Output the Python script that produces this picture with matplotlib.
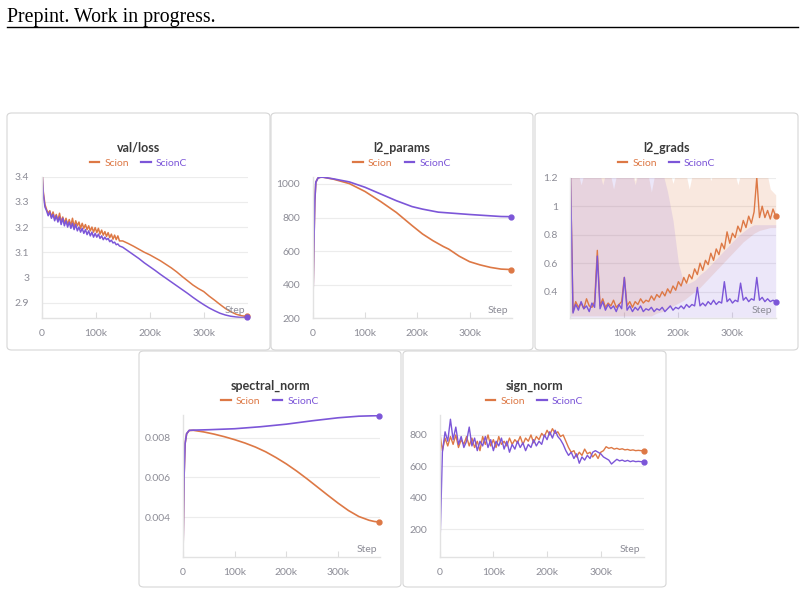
import numpy as np
import matplotlib
matplotlib.use("Agg")
import matplotlib.pyplot as plt
from matplotlib.lines import Line2D
from matplotlib.patches import FancyBboxPatch

plt.rcParams['font.family'] = ['Lato', 'DejaVu Sans']

W, H = 805, 595
ORANGE = '#DD7845'
PURPLE = '#7C56D8'
GRID = '#ececec'
TICK = '#8c8c96'

series_names = ['Scion', 'ScionC']

# ---- val/loss ----
loss_steps = [0, 3, 6, 9, 12, 15, 18, 21, 24, 27, 30, 33, 36, 39, 42, 45, 48, 51, 54, 57,
              60, 63, 66, 69, 72, 75, 78, 81, 84, 87, 90, 93, 96, 99, 102, 105, 108, 111, 114,
              117, 120, 123, 126, 129, 132, 135, 138, 141, 144,
              150, 160, 170, 180, 190, 200, 210, 220, 230, 240, 250, 260, 270, 280, 290, 300,
              310, 320, 330, 340, 350, 360, 370, 380]
loss_scion = [3.45, 3.34, 3.29, 3.27, 3.255, 3.265, 3.24, 3.26, 3.235, 3.25, 3.225, 3.255, 3.22,
              3.24, 3.215, 3.235, 3.21, 3.23, 3.205, 3.235, 3.2, 3.225, 3.205, 3.22, 3.195, 3.215,
              3.195, 3.21, 3.19, 3.205, 3.185, 3.2, 3.18, 3.198, 3.178, 3.195, 3.172, 3.188, 3.168,
              3.182, 3.163, 3.178, 3.158, 3.172, 3.152, 3.168, 3.15, 3.165, 3.145,
              3.145, 3.135, 3.124, 3.112, 3.1, 3.09, 3.078, 3.066, 3.052, 3.038, 3.022, 3.004,
              2.987, 2.97, 2.956, 2.944, 2.926, 2.91, 2.893, 2.877, 2.864, 2.854, 2.848, 2.845]
loss_scionc = [3.45, 3.33, 3.28, 3.265, 3.245, 3.26, 3.235, 3.25, 3.225, 3.245, 3.22, 3.24, 3.21,
               3.235, 3.205, 3.225, 3.2, 3.22, 3.195, 3.215, 3.19, 3.21, 3.185, 3.2, 3.18, 3.195,
               3.175, 3.19, 3.17, 3.185, 3.165, 3.18, 3.16, 3.175, 3.16, 3.172, 3.155, 3.165, 3.15,
               3.16, 3.15, 3.155, 3.142, 3.148, 3.137, 3.14, 3.13, 3.133, 3.125,
               3.12, 3.105, 3.09, 3.075, 3.058, 3.043, 3.028, 3.012, 2.997, 2.982, 2.967, 2.952,
               2.937, 2.921, 2.906, 2.892, 2.879, 2.868, 2.858, 2.851, 2.846, 2.843, 2.841, 2.841]
loss_yticks = [2.9, 3.0, 3.1, 3.2, 3.3, 3.4]
loss_ylabels = ['2.9', '3', '3.1', '3.2', '3.3', '3.4']

# ---- l2_params ----
params_steps = [0, 2, 4, 6, 10, 15, 20, 40, 70, 100, 130, 160, 190, 210, 230, 250, 260, 280,
                300, 320, 340, 360, 380]
params_scion = [200, 600, 900, 1010, 1035, 1040, 1040, 1028, 1002, 955, 895, 830, 752, 702, 662,
                627, 612, 570, 537, 518, 503, 493, 490]
params_scionc_steps = [0, 2, 4, 6, 10, 15, 20, 40, 70, 100, 130, 160, 190, 210, 240, 270, 300,
                       330, 360, 380]
params_scionc = [200, 600, 900, 1010, 1035, 1040, 1040, 1030, 1012, 980, 940, 900, 865, 850,
                 832, 825, 818, 812, 806, 805]
params_yticks = [200, 400, 600, 800, 1000]

# ---- l2_grads ----
grads_steps = list(range(0, 381, 5))
grads_scion = [1.30, 0.26, 0.33, 0.29, 0.32, 0.28, 0.35, 0.30, 0.29, 0.33, 0.69, 0.30, 0.35, 0.29,
               0.32, 0.30, 0.34, 0.29, 0.31, 0.33, 0.50, 0.30, 0.33, 0.29, 0.33, 0.31, 0.35, 0.32,
               0.34, 0.33, 0.37, 0.34, 0.38, 0.36, 0.40, 0.37, 0.42, 0.39, 0.44, 0.41, 0.47, 0.44,
               0.50, 0.46, 0.52, 0.49, 0.56, 0.52, 0.60, 0.55, 0.62, 0.59, 0.67, 0.62, 0.70, 0.66,
               0.74, 0.70, 0.82, 0.74, 0.81, 0.78, 0.86, 0.82, 0.90, 0.85, 0.93, 0.88, 0.96, 1.20,
               0.92, 1.00, 0.92, 0.97, 0.91, 0.98, 0.93]
grads_scionc = [1.30, 0.25, 0.31, 0.27, 0.33, 0.28, 0.30, 0.26, 0.32, 0.29, 0.65, 0.28, 0.33, 0.27,
                0.31, 0.28, 0.30, 0.26, 0.31, 0.28, 0.50, 0.27, 0.30, 0.26, 0.29, 0.27, 0.30, 0.26,
                0.28, 0.27, 0.29, 0.26, 0.28, 0.27, 0.29, 0.26, 0.28, 0.30, 0.27, 0.29, 0.28, 0.30,
                0.28, 0.31, 0.29, 0.31, 0.30, 0.43, 0.30, 0.32, 0.30, 0.33, 0.31, 0.34, 0.31, 0.33,
                0.32, 0.47, 0.33, 0.35, 0.32, 0.34, 0.33, 0.46, 0.34, 0.36, 0.33, 0.35, 0.34, 0.50,
                0.34, 0.36, 0.33, 0.35, 0.33, 0.34, 0.33]
band_steps = list(range(0, 381, 10))
band_scion_hi = [1.3, 1.3, 1.15, 1.3, 1.3, 1.2, 1.3, 1.3, 1.12, 1.3, 1.3, 1.3, 1.18, 1.3, 1.3, 1.1,
                 1.3, 1.3, 1.3, 1.16, 1.3, 1.3, 1.12, 1.3, 1.3, 1.3, 1.18, 1.3, 1.3, 1.3, 1.3, 1.15,
                 1.3, 1.3, 1.3, 1.3, 1.3, 1.12, 1.08]
band_scion_lo = [0.23, 0.23, 0.23, 0.23, 0.23, 0.23, 0.23, 0.23, 0.23, 0.23, 0.23, 0.23, 0.23,
                 0.23, 0.23, 0.23, 0.25, 0.26, 0.28, 0.30, 0.32, 0.34, 0.37, 0.40, 0.43, 0.47,
                 0.51, 0.55, 0.59, 0.63, 0.67, 0.71, 0.75, 0.78, 0.81, 0.83, 0.84, 0.85, 0.85]
band_scionc_hi = [1.3, 1.3, 1.2, 1.3, 1.25, 1.3, 1.15, 1.3, 1.3, 1.2, 1.3, 1.3, 1.15, 1.3, 1.25,
                  1.3, 1.2, 1.25, 1.1, 0.9, 0.6, 0.46, 0.46, 0.48, 0.52, 0.55, 0.59, 0.63, 0.67,
                  0.71, 0.75, 0.79, 0.82, 0.85, 0.87, 0.87, 0.87, 0.87, 0.87]
band_scionc_lo = 0.22
grads_yticks = [0.4, 0.6, 0.8, 1.0, 1.2]
grads_ylabels = ['0.4', '0.6', '0.8', '1', '1.2']

# ---- spectral_norm ----
spec_steps = [0, 2, 4, 7, 12, 20, 40, 60, 80, 100, 120, 140, 160, 180, 200, 220, 240, 260,
              280, 300, 320, 340, 360, 370, 380]
spec_scion = [0.0021, 0.006, 0.0077, 0.0082, 0.00836, 0.00837, 0.00829, 0.00818, 0.00805,
              0.0079, 0.00773, 0.00753, 0.00729, 0.0070, 0.00668, 0.00632, 0.00593, 0.00552,
              0.00511, 0.00471, 0.00434, 0.00404, 0.00385, 0.00379, 0.00376]
spec_scionc_steps = [0, 2, 4, 7, 12, 20, 50, 100, 150, 200, 250, 300, 340, 380]
spec_scionc = [0.0021, 0.006, 0.0077, 0.0082, 0.00837, 0.00838, 0.0084, 0.00845, 0.00855,
               0.00868, 0.00885, 0.009, 0.00908, 0.00911]
spec_yticks = [0.004, 0.006, 0.008]
spec_ylabels = ['0.004', '0.006', '0.008']

# ---- sign_norm ----
sign_steps = list(range(0, 381, 5))
sign_scion = [820, 700, 780, 730, 790, 740, 800, 720, 770, 740, 790, 730, 780, 720, 760, 700,
              790, 740, 800, 730, 770, 720, 790, 740, 760, 730, 780, 740, 770, 750, 790, 740,
              780, 760, 800, 750, 790, 770, 810, 790, 830, 800, 840, 810, 820, 790, 800, 760,
              720, 690, 700, 660, 690, 670, 710, 680, 690, 660, 680, 650, 690, 700, 725, 715,
              720, 710, 715, 708, 712, 705, 708, 702, 705, 700, 702, 700, 700]
sign_scionc = [25, 690, 820, 760, 900, 770, 850, 740, 790, 720, 760, 850, 730, 780, 700, 760,
               730, 790, 720, 770, 700, 760, 730, 780, 710, 760, 690, 740, 710, 760, 720, 750,
               700, 740, 720, 770, 730, 760, 740, 800, 770, 820, 780, 830, 790, 770, 740, 700,
               670, 690, 650, 680, 620, 660, 640, 670, 650, 690, 700, 690, 680, 660, 650, 640,
               615, 630, 645, 635, 640, 632, 638, 630, 635, 630, 632, 630, 630]
sign_yticks = [200, 400, 600, 800]

xticks = [0, 100, 200, 300]
xlabels = ['0', '100k', '200k', '300k']

fig = plt.figure(figsize=(W / 100, H / 100), dpi=100)

# header
fig.text(7 / W, 1 - 22 / H, 'Prepint. Work in progress.', family='Liberation Serif',
         fontsize=14.3, color='black', va='baseline')
fig.add_artist(Line2D([7 / W, 798 / W], [1 - 27 / H, 1 - 27 / H], color='black', lw=1.0))


def panel(box, ax_box, title, ylim, yticks, ylabels, xlim=(0, 382), xt=xticks, xl=xlabels):
    l, t, r, b = box
    fig.add_artist(FancyBboxPatch((l / W, 1 - b / H), (r - l) / W, (b - t) / H,
                                  boxstyle='round,pad=0,rounding_size=0.006',
                                  transform=fig.transFigure, fc='white', ec='#d6d6d6', lw=0.8,
                                  zorder=-10))
    al, at, ar, ab = ax_box
    ax = fig.add_axes([al / W, 1 - ab / H, (ar - al) / W, (ab - at) / H])
    ax.set_facecolor('none')
    ax.set_xlim(*xlim)
    ax.set_ylim(*ylim)
    ax.set_yticks(yticks)
    ax.set_yticklabels(ylabels)
    ax.set_xticks(xt)
    ax.set_xticklabels(xl)
    ax.tick_params(axis='both', colors='#dddddd', labelcolor=TICK, labelsize=7.5,
                   direction='in', length=4)
    ax.tick_params(axis='y', length=0, pad=9)
    ax.tick_params(axis='x', pad=8)
    for s in ['top', 'right']:
        ax.spines[s].set_visible(False)
    for s in ['left', 'bottom']:
        ax.spines[s].set_color('#e2e2e2')
        ax.spines[s].set_linewidth(1.0)
    ax.yaxis.grid(True, color=GRID, lw=0.8)
    ax.set_axisbelow(True)
    cx = (l + r) / 2
    fig.text(cx / W, 1 - (t + 35) / H, title, ha='center', va='center', fontsize=9,
             fontweight='bold', color='#3a3a3a')
    handles = [Line2D([], [], color=ORANGE, lw=1.6), Line2D([], [], color=PURPLE, lw=1.6)]
    leg = ax.legend(handles, series_names, loc='center', bbox_to_anchor=(cx / W, 1 - (t + 50) / H),
                    bbox_transform=fig.transFigure, ncol=2, frameon=False, fontsize=7.5,
                    handlelength=0.9, handletextpad=0.5, columnspacing=1.2)
    for txt, c in zip(leg.get_texts(), [ORANGE, PURPLE]):
        txt.set_color(c)
    ax.text(0.985, 0.02, 'Step', transform=ax.transAxes, ha='right', va='bottom',
            fontsize=7.5, color=TICK)
    return ax


def end_dot(ax, x, y, c):
    ax.plot(x[-1:], y[-1:], 'o', color=c, ms=3.5, clip_on=False, zorder=5)


# panel 1
ax = panel((7, 113, 270, 350), (41.7, 176.7, 248, 318), 'val/loss', (2.839, 3.4),
           loss_yticks, loss_ylabels)
ax.plot(loss_steps, loss_scion, color=ORANGE, lw=1.1)
ax.plot(loss_steps, loss_scionc, color=PURPLE, lw=1.1)
end_dot(ax, loss_steps, loss_scion, ORANGE)
end_dot(ax, loss_steps, loss_scionc, PURPLE)

# panel 2
ax = panel((271, 113, 533, 350), (312.7, 176.7, 511.7, 318.3), 'l2_params', (200, 1043),
           params_yticks, [str(v) for v in params_yticks], xlim=(0, 380.5))
ax.plot(params_steps, params_scion, color=ORANGE, lw=1.2)
ax.plot(params_scionc_steps, params_scionc, color=PURPLE, lw=1.2)
end_dot(ax, params_steps, params_scion, ORANGE)
end_dot(ax, params_scionc_steps, params_scionc, PURPLE)

# panel 3
ax = panel((535, 113, 798, 350), (570.3, 177.7, 775.7, 318.3), 'l2_grads', (0.213, 1.2),
           grads_yticks, grads_ylabels, xlim=(0, 380), xt=xticks[1:], xl=xlabels[1:])
ax.fill_between(band_steps, band_scion_lo, band_scion_hi, color=ORANGE, alpha=0.17, lw=0)
ax.fill_between(band_steps, band_scionc_lo, band_scionc_hi, color=PURPLE, alpha=0.14, lw=0)
ax.plot(grads_steps, grads_scion, color=ORANGE, lw=1.0)
ax.plot(grads_steps, grads_scionc, color=PURPLE, lw=1.0)
end_dot(ax, grads_steps, grads_scion, ORANGE)
end_dot(ax, grads_steps, grads_scionc, PURPLE)

# panel 4
ax = panel((139, 351, 401, 587), (183, 415, 380.3, 556.7), 'spectral_norm', (0.00202, 0.00914),
           spec_yticks, spec_ylabels, xlim=(0, 381.6))
ax.plot(spec_steps, spec_scion, color=ORANGE, lw=1.2)
ax.plot(spec_scionc_steps, spec_scionc, color=PURPLE, lw=1.2)
end_dot(ax, spec_steps, spec_scion, ORANGE)
end_dot(ax, spec_scionc_steps, spec_scionc, PURPLE)

# panel 5
ax = panel((403, 351, 666, 587), (439.7, 415, 643.7, 556.7), 'sign_norm', (25, 927),
           sign_yticks, [str(v) for v in sign_yticks], xlim=(0, 380))
ax.plot(sign_steps, sign_scion, color=ORANGE, lw=1.0)
ax.plot(sign_steps, sign_scionc, color=PURPLE, lw=1.0)
end_dot(ax, sign_steps, sign_scion, ORANGE)
end_dot(ax, sign_steps, sign_scionc, PURPLE)

fig.savefig('out.png', dpi=100, facecolor='white')
